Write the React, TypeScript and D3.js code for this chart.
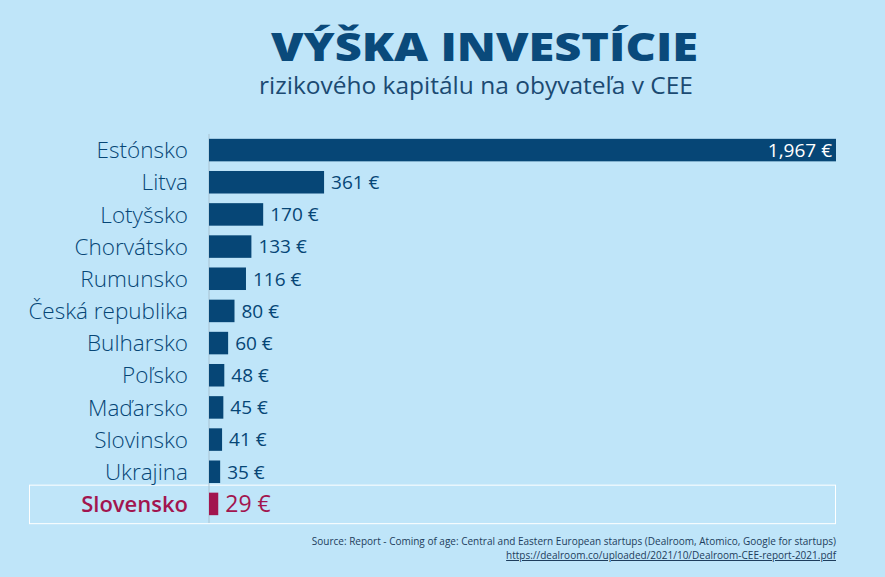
import { useLayoutEffect } from 'react';
import * as d3 from 'd3';

// Venture capital invested per inhabitant, CEE
const countries = [
  'Estónsko', 'Litva', 'Lotyšsko', 'Chorvátsko', 'Rumunsko', 'Česká republika',
  'Bulharsko', 'Poľsko', 'Maďarsko', 'Slovinsko', 'Ukrajina', 'Slovensko',
];
const values = [1967, 361, 170, 133, 116, 80, 60, 48, 45, 41, 35, 29];
const highlight = 'Slovensko';

const W = 885;
const H = 577;
const BG = '#bfe5f9';
const NAVY = '#064676';
const RED = '#a2154f';
const FONT = '"Open Sans", "Noto Sans", sans-serif';

export default function App() {
  useLayoutEffect(() => {
    document.body.style.margin = '0';
  }, []);

  const x = d3.scaleLinear().domain([0, d3.max(values) as number]).range([209, 836]);
  const y = d3.scaleBand<string>().domain(countries).range([134, 520]).paddingInner(0.3).paddingOuter(0.15);
  const fmt = d3.format(',');
  const hl = y(highlight) as number;

  return (
    <svg width={W} height={H} viewBox={`0 0 ${W} ${H}`} style={{ display: 'block' }}>
      <rect width={W} height={H} fill={BG} />

      <text x={271} y={61} fill="#0a4a7b" fontFamily={FONT} fontWeight={800} fontSize={39}
        textLength={427} lengthAdjust="spacingAndGlyphs">VÝŠKA INVESTÍCIE</text>
      <text x={476} y={94} textAnchor="middle" fill="#1b4a72" fontFamily={FONT}
        fontSize={24.5}>rizikového kapitálu na obyvateľa v CEE</text>

      {/* highlight frame */}
      <rect x={29.5} y={hl - 7.5} width={806} height={y.bandwidth() + 16} fill="none"
        stroke="#ffffff" strokeWidth={1} />

      {/* baseline */}
      <line x1={x(0)} x2={x(0)} y1={134} y2={523} stroke="#a9c3d2" strokeWidth={1} />

      {countries.map((c, i) => {
        const v = values[i];
        const yy = y(c) as number;
        const bw = y.bandwidth();
        const isHl = c === highlight;
        const color = isHl ? RED : NAVY;
        const inside = x(v) - x(0) > 200;
        return (
          <g key={c}>
            <text x={188} y={yy + bw / 2} dy="0.36em" textAnchor="end" fill={color}
              fontFamily={FONT} fontSize={isHl ? 22 : 22.5} fontWeight={isHl ? 600 : 300}>{c}</text>
            <rect x={x(0)} y={yy} width={x(v) - x(0)} height={bw} fill={color} />
            <text x={inside ? x(v) - 4 : x(v) + 7} y={yy + bw / 2} dy="0.36em"
              textAnchor={inside ? 'end' : 'start'} fill={inside ? '#ffffff' : color}
              fontFamily={FONT} fontSize={isHl ? 23 : 19} fontWeight={isHl ? 500 : 400}>
              {`${fmt(v)} €`}
            </text>
          </g>
        );
      })}

      <text x={836} y={545} textAnchor="end" fill="#1d3d5c" fontFamily={FONT} fontSize={10}>
        Source: Report - Coming of age: Central and Eastern European startups (Dealroom, Atomico, Google for startups)
      </text>
      <text x={836} y={559} textAnchor="end" fill="#1d3d5c" fontFamily={FONT} fontSize={10}
        textDecoration="underline">https://dealroom.co/uploaded/2021/10/Dealroom-CEE-report-2021.pdf</text>
    </svg>
  );
}
